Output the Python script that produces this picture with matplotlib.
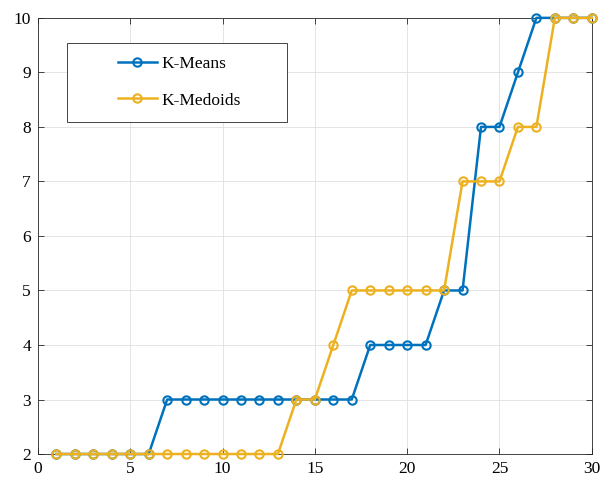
import numpy as np
import matplotlib.pyplot as plt
from matplotlib.patches import Rectangle

x = list(range(1, 31))
kmeans = [2, 2, 2, 2, 2, 2, 3, 3, 3, 3, 3, 3, 3, 3, 3, 3, 3, 4, 4, 4, 4, 5, 5, 8, 8, 9, 10, 10, 10, 10]
kmedoids = [2, 2, 2, 2, 2, 2, 2, 2, 2, 2, 2, 2, 2, 3, 3, 4, 5, 5, 5, 5, 5, 5, 7, 7, 7, 8, 8, 10, 10, 10]

plt.rcParams['font.family'] = ['Liberation Serif', 'DejaVu Serif']

fig = plt.figure(figsize=(6.02, 4.83), dpi=100)
ax = fig.add_axes([0.063, 0.060, 0.920, 0.903])

ax.plot(x, kmeans, color='#0072BD', lw=1.8, marker='o', ms=6,
        mfc='none', mew=1.5, label='K-Means', clip_on=False, zorder=3)
ax.plot(x, kmedoids, color='#EDB120', lw=1.8, marker='o', ms=6,
        mfc='none', mew=1.5, label='K-Medoids', clip_on=False, zorder=3)

ax.set_xlim(0, 30)
ax.set_ylim(2, 10)
ax.set_xticks(range(0, 31, 5))
ax.set_yticks(range(2, 11))
ax.grid(True, color='#DFDFDF', linewidth=0.6)
ax.set_axisbelow(True)
ax.tick_params(direction='in', top=True, right=True, labelsize=12.5,
               color='#262626', length=4, width=0.6, pad=5)
for s in ax.spines.values():
    s.set_color('#262626')
    s.set_linewidth(0.6)

# legend box drawn separately so entries sit centred in it
ax.add_patch(Rectangle((0.052, 0.761), 0.397, 0.182, transform=ax.transAxes,
                       facecolor='white', edgecolor='#262626', lw=0.6, zorder=4))
leg = ax.legend(loc='center', bbox_to_anchor=(0.256, 0.852), frameon=False,
                fontsize=12.5, labelspacing=1.15, handlelength=2.2,
                handletextpad=0.3, borderaxespad=0, borderpad=0)
leg.set_zorder(5)

fig.savefig('out.png', dpi=100)
